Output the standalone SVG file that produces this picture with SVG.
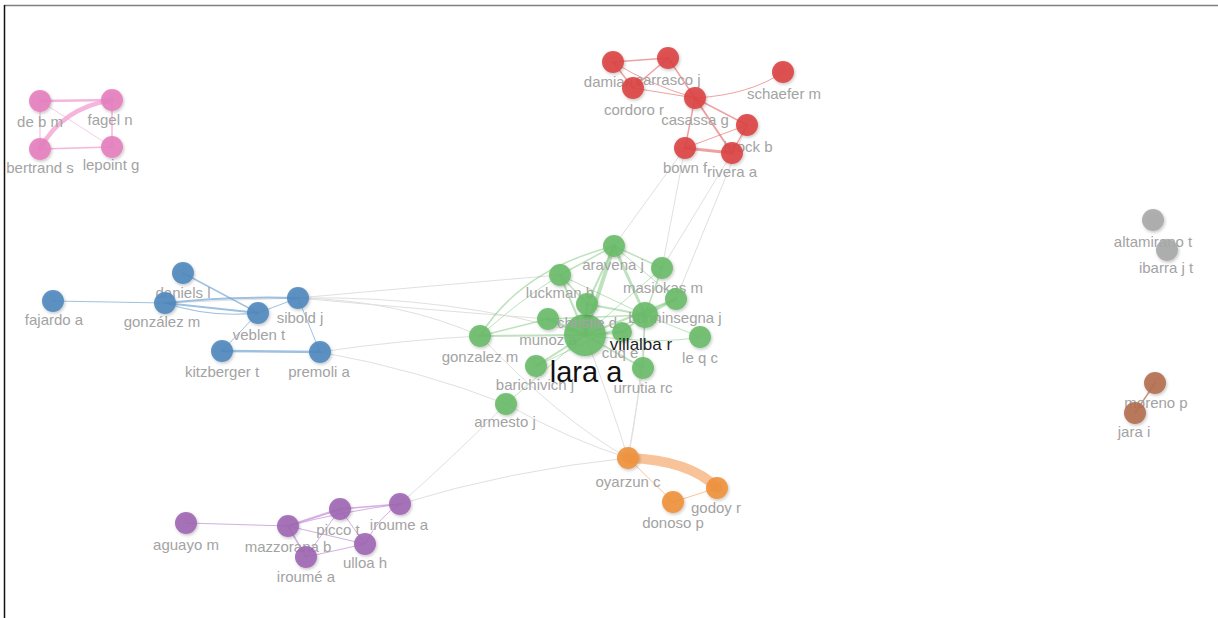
<svg xmlns="http://www.w3.org/2000/svg" width="1218" height="618" viewBox="0 0 1218 618">
<defs>
<filter id="sh" x="-50%" y="-50%" width="200%" height="200%"><feDropShadow dx="1" dy="1.5" stdDeviation="1.5" flood-color="#000" flood-opacity="0.25"/></filter>
</defs>
<style>
text{font-family:"Liberation Sans",Arial,Helvetica,sans-serif;font-size:15px;fill:#a3a3a3;text-anchor:middle}
circle{filter:url(#sh);fill-opacity:0.9}
.pk circle{fill:#e680bf}.rd circle{fill:#db4444}.bl circle{fill:#5088be}.gr circle{fill:#69bb69}
.or circle{fill:#f0913c}.pu circle{fill:#a066b4}.gy circle{fill:#a8a8a8}.br circle{fill:#b46e50}
#edges path,#edges line{fill:none;stroke-linecap:round}
.ep{stroke:#f3a8d6;opacity:.85}.er{stroke:#e66e70;opacity:.65}.eb{stroke:#6b9fd0;opacity:.65}
.eg{stroke:#7cc67c;opacity:.5}.eo{stroke:#f7b987;opacity:.85}.eu{stroke:#c99ad9;opacity:.8}
.ew{stroke:#b98064;opacity:.8}.ex{stroke:#e0e0e0;stroke-width:1}
.big{font-size:29px;fill:#111}.mid{font-size:17px;fill:#1e1e1e}
</style>
<rect width="1218" height="618" fill="#fff"/>
<line x1="4" y1="5.5" x2="1218" y2="5.5" stroke="#808080" stroke-width="1.5"/>
<line x1="4.5" y1="5" x2="4.5" y2="618" stroke="#111" stroke-width="1.5"/>
<g id="edges">
<path class="ex" d="M298,298 Q400,300 480,336"/>
<path class="ex" d="M298,298 Q450,295 585,335"/>
<path class="ex" d="M298,298 Q440,285 560,275"/>
<path class="ex" d="M298,298 Q430,310 548,319"/>
<path class="ex" d="M320,352 Q400,340 480,336"/>
<path class="ex" d="M320,352 Q420,370 506,404"/>
<path class="ex" d="M165,303 Q230,300 298,298"/>
<path class="ex" d="M506,404 Q450,460 400,504"/>
<path class="ex" d="M506,404 Q570,440 628,458"/>
<path class="ex" d="M400,504 Q510,470 628,458"/>
<path class="ex" d="M480,336 Q560,420 628,458"/>
<path class="ex" d="M585,335 Q610,400 628,458"/>
<path class="ex" d="M645,315 Q640,400 628,458"/>
<path class="ex" d="M643,368 L628,458"/>
<path class="ex" d="M685,148 L662,268"/>
<path class="ex" d="M685,148 L614,246"/>
<path class="ex" d="M732,153 L662,268"/>
<path class="ex" d="M747,125 L676,299"/>
<line class="ep" x1="40" y1="101" x2="112" y2="100" stroke-width="2.5"/>
<line class="ep" x1="112" y1="100" x2="112" y2="147" stroke-width="1.5"/>
<line class="ep" x1="112" y1="147" x2="40" y2="149" stroke-width="1.5"/>
<line class="ep" x1="40" y1="149" x2="40" y2="101" stroke-width="1"/>
<line class="ep" x1="40" y1="101" x2="112" y2="147" stroke-width="0.7"/>
<path class="ep" d="M40,149 Q62,108 112,100" stroke-width="4.5"/>
<line class="er" x1="613" y1="62" x2="668" y2="58" stroke-width="1.5"/>
<line class="er" x1="613" y1="62" x2="633" y2="88" stroke-width="1.5"/>
<path class="er" d="M613,62 Q650,85 695,98" stroke-width="1"/>
<line class="er" x1="668" y1="58" x2="633" y2="88" stroke-width="1.5"/>
<line class="er" x1="668" y1="58" x2="695" y2="98" stroke-width="1.5"/>
<line class="er" x1="633" y1="88" x2="695" y2="98" stroke-width="1"/>
<path class="er" d="M695,98 Q750,95 783,72" stroke-width="1"/>
<line class="er" x1="695" y1="98" x2="747" y2="125" stroke-width="1.5"/>
<line class="er" x1="695" y1="98" x2="685" y2="148" stroke-width="1.5"/>
<line class="er" x1="695" y1="98" x2="732" y2="153" stroke-width="2"/>
<line class="er" x1="747" y1="125" x2="732" y2="153" stroke-width="1.5"/>
<line class="er" x1="747" y1="125" x2="685" y2="148" stroke-width="1"/>
<line class="er" x1="685" y1="148" x2="732" y2="153" stroke-width="3"/>
<line class="eb" x1="53" y1="301" x2="165" y2="303" stroke-width="1"/>
<path class="eb" d="M165,303 Q230,296 298,298" stroke-width="2"/>
<line class="eb" x1="165" y1="303" x2="258" y2="313" stroke-width="2"/>
<path class="eb" d="M165,303 Q210,318 258,313" stroke-width="1.2"/>
<line class="eb" x1="183" y1="273" x2="258" y2="313" stroke-width="1.5"/>
<line class="eb" x1="258" y1="313" x2="298" y2="298" stroke-width="1"/>
<line class="eb" x1="258" y1="313" x2="222" y2="351" stroke-width="1"/>
<line class="eb" x1="298" y1="298" x2="320" y2="352" stroke-width="1"/>
<line class="eb" x1="222" y1="351" x2="320" y2="352" stroke-width="2.5"/>
<line class="eg" x1="614" y1="246" x2="585" y2="335" stroke-width="4"/>
<line class="eg" x1="614" y1="246" x2="645" y2="315" stroke-width="3"/>
<line class="eg" x1="614" y1="246" x2="560" y2="275" stroke-width="1.5"/>
<line class="eg" x1="614" y1="246" x2="662" y2="268" stroke-width="1.5"/>
<line class="eg" x1="614" y1="246" x2="676" y2="299" stroke-width="1"/>
<line class="eg" x1="614" y1="246" x2="587" y2="304" stroke-width="2"/>
<path class="eg" d="M480,336 Q520,270 614,246" stroke-width="1.5"/>
<path class="eg" d="M480,336 Q520,300 560,275" stroke-width="1"/>
<line class="eg" x1="560" y1="275" x2="585" y2="335" stroke-width="2"/>
<line class="eg" x1="560" y1="275" x2="587" y2="304" stroke-width="1.5"/>
<line class="eg" x1="560" y1="275" x2="645" y2="315" stroke-width="1"/>
<line class="eg" x1="662" y1="268" x2="645" y2="315" stroke-width="1.5"/>
<line class="eg" x1="662" y1="268" x2="585" y2="335" stroke-width="1"/>
<line class="eg" x1="676" y1="299" x2="645" y2="315" stroke-width="3"/>
<line class="eg" x1="676" y1="299" x2="585" y2="335" stroke-width="2"/>
<line class="eg" x1="587" y1="304" x2="585" y2="335" stroke-width="3"/>
<line class="eg" x1="587" y1="304" x2="645" y2="315" stroke-width="2"/>
<line class="eg" x1="548" y1="319" x2="585" y2="335" stroke-width="3"/>
<line class="eg" x1="548" y1="319" x2="645" y2="315" stroke-width="1.5"/>
<line class="eg" x1="480" y1="336" x2="585" y2="335" stroke-width="2"/>
<line class="eg" x1="480" y1="336" x2="548" y2="319" stroke-width="1.5"/>
<line class="eg" x1="536" y1="366" x2="585" y2="335" stroke-width="2"/>
<line class="eg" x1="536" y1="366" x2="645" y2="315" stroke-width="1"/>
<line class="eg" x1="622" y1="332" x2="585" y2="335" stroke-width="3"/>
<line class="eg" x1="622" y1="332" x2="645" y2="315" stroke-width="2"/>
<line class="eg" x1="643" y1="368" x2="585" y2="335" stroke-width="2"/>
<line class="eg" x1="643" y1="368" x2="645" y2="315" stroke-width="1.5"/>
<line class="eg" x1="700" y1="337" x2="645" y2="315" stroke-width="1"/>
<path class="eg" d="M700,337 Q660,345 585,335" stroke-width="1"/>
<line class="eg" x1="506" y1="404" x2="585" y2="335" stroke-width="1"/>
<path class="eo" d="M628,458 Q690,460 717,488" stroke-width="10"/>
<line class="eo" x1="628" y1="458" x2="673" y2="502" stroke-width="1" opacity=".5"/>
<line class="eo" x1="673" y1="502" x2="717" y2="488" stroke-width="1" opacity=".5"/>
<line class="eu" x1="186" y1="523" x2="288" y2="526" stroke-width="1"/>
<line class="eu" x1="288" y1="526" x2="340" y2="509" stroke-width="2"/>
<path class="eu" d="M288,526 Q340,512 400,504" stroke-width="1"/>
<line class="eu" x1="288" y1="526" x2="365" y2="544" stroke-width="1"/>
<line class="eu" x1="288" y1="526" x2="306" y2="557" stroke-width="1.5"/>
<line class="eu" x1="340" y1="509" x2="400" y2="504" stroke-width="1.5"/>
<line class="eu" x1="340" y1="509" x2="365" y2="544" stroke-width="1"/>
<line class="eu" x1="306" y1="557" x2="365" y2="544" stroke-width="1"/>
<line class="eu" x1="306" y1="557" x2="340" y2="509" stroke-width="1"/>
<path class="eu" d="M365,544 Q380,515 400,504" stroke-width="1"/>
<line class="ew" x1="1155" y1="383" x2="1135" y2="413" stroke-width="1.5"/>
</g>
<g id="n-de-b-m" class="pk"><text x="40" y="127">de b m</text><circle cx="40" cy="101" r="11"/></g>
<g id="n-fagel-n" class="pk"><text x="110" y="125">fagel n</text><circle cx="112" cy="100" r="11"/></g>
<g id="n-bertrand-s" class="pk"><text x="40" y="173">bertrand s</text><circle cx="40" cy="149" r="11"/></g>
<g id="n-lepoint-g" class="pk"><text x="111" y="170">lepoint g</text><circle cx="112" cy="147" r="11"/></g>
<g id="n-damian-r" class="rd"><text x="613" y="87">damian r</text><circle cx="613" cy="62" r="11"/></g>
<g id="n-carrasco-j" class="rd"><text x="668" y="85">carrasco j</text><circle cx="668" cy="58" r="11"/></g>
<g id="n-cordoro-r" class="rd"><text x="634" y="115">cordoro r</text><circle cx="633" cy="88" r="11"/></g>
<g id="n-casassa-g" class="rd"><text x="695" y="125">casassa g</text><circle cx="695" cy="98" r="11"/></g>
<g id="n-schaefer-m" class="rd"><text x="784" y="99">schaefer m</text><circle cx="783" cy="72" r="11"/></g>
<g id="n-brock-b" class="rd"><text x="748" y="152">brock b</text><circle cx="747" cy="125" r="11"/></g>
<g id="n-bown-f" class="rd"><text x="685" y="173">bown f</text><circle cx="685" cy="148" r="11"/></g>
<g id="n-rivera-a" class="rd"><text x="732" y="177">rivera a</text><circle cx="732" cy="153" r="11"/></g>
<g id="n-daniels-l" class="bl"><text x="183" y="298">daniels l</text><circle cx="183" cy="273" r="11"/></g>
<g id="n-fajardo-a" class="bl"><text x="54" y="325">fajardo a</text><circle cx="53" cy="301" r="11"/></g>
<g id="n-gonzalez-m-b" class="bl"><text x="162" y="327">gonzález m</text><circle cx="165" cy="303" r="11"/></g>
<g id="n-sibold-j" class="bl"><text x="300" y="323">sibold j</text><circle cx="298" cy="298" r="11"/></g>
<g id="n-veblen-t" class="bl"><text x="259" y="340">veblen t</text><circle cx="258" cy="313" r="11"/></g>
<g id="n-kitzberger-t" class="bl"><text x="222" y="377">kitzberger t</text><circle cx="222" cy="351" r="11"/></g>
<g id="n-premoli-a" class="bl"><text x="319" y="377">premoli a</text><circle cx="320" cy="352" r="11"/></g>
<g id="n-aravena-j" class="gr"><text x="613" y="270">aravena j</text><circle cx="614" cy="246" r="11"/></g>
<g id="n-masiokas-m" class="gr"><text x="663" y="293">masiokas m</text><circle cx="662" cy="268" r="11"/></g>
<g id="n-luckman-b" class="gr"><text x="560" y="298">luckman b</text><circle cx="560" cy="275" r="11"/></g>
<g id="n-bonninsegna-j" class="gr"><text x="675" y="323">bonninsegna j</text><circle cx="676" cy="299" r="11"/></g>
<g id="n-munoz-a" class="gr"><text x="548" y="345">munoz a</text><circle cx="548" cy="319" r="11"/></g>
<g id="n-gonzalez-m-g" class="gr"><text x="480" y="362">gonzalez m</text><circle cx="480" cy="336" r="11"/></g>
<g id="n-barichivich-j" class="gr"><text x="535" y="390">barichivich j</text><circle cx="536" cy="366" r="11"/></g>
<g id="n-armesto-j" class="gr"><text x="505" y="427">armesto j</text><circle cx="506" cy="404" r="11"/></g>
<g id="n-le-q-c" class="gr"><text x="700" y="363">le q c</text><circle cx="700" cy="337" r="11"/></g>
<g id="n-urrutia-rc" class="gr"><text x="643" y="393">urrutia rc</text><circle cx="643" cy="368" r="11"/></g>
<g id="n-lara-a" class="gr"><circle cx="585" cy="335" r="21"/><text class="big" x="586" y="382">lara a</text></g>
<g id="n-christie-d" class="gr"><circle cx="587" cy="304" r="11"/><text x="587" y="328">christie d</text></g>
<g id="n-cuq-e" class="gr"><circle cx="622" cy="332" r="10"/><text x="620" y="358">cuq e</text></g>
<g id="n-villalba-r" class="gr"><circle cx="645" cy="315" r="13"/><text class="mid" x="641" y="350">villalba r</text></g>
<g id="n-oyarzun-c" class="or"><text x="628" y="487">oyarzun c</text><circle cx="628" cy="458" r="11"/></g>
<g id="n-godoy-r" class="or"><text x="716" y="513">godoy r</text><circle cx="717" cy="488" r="11"/></g>
<g id="n-donoso-p" class="or"><text x="673" y="528">donoso p</text><circle cx="673" cy="502" r="11"/></g>
<g id="n-aguayo-m" class="pu"><text x="186" y="550">aguayo m</text><circle cx="186" cy="523" r="11"/></g>
<g id="n-mazzorana-b" class="pu"><text x="288" y="552">mazzorana b</text><circle cx="288" cy="526" r="11"/></g>
<g id="n-picco-t" class="pu"><text x="338" y="535">picco t</text><circle cx="340" cy="509" r="11"/></g>
<g id="n-iroume-a" class="pu"><text x="399" y="530">iroume a</text><circle cx="400" cy="504" r="11"/></g>
<g id="n-ulloa-h" class="pu"><text x="365" y="568">ulloa h</text><circle cx="365" cy="544" r="11"/></g>
<g id="n-iroume-a2" class="pu"><text x="306" y="582">iroumé a</text><circle cx="306" cy="557" r="11"/></g>
<g id="n-altamirano-t" class="gy"><text x="1153" y="247">altamirano t</text><circle cx="1153" cy="220" r="11"/></g>
<g id="n-ibarra-j-t" class="gy"><text x="1166" y="273">ibarra j t</text><circle cx="1167" cy="250" r="11"/></g>
<g id="n-moreno-p" class="br"><text x="1156" y="408">moreno p</text><circle cx="1155" cy="383" r="11"/></g>
<g id="n-jara-i" class="br"><text x="1134" y="437">jara i</text><circle cx="1135" cy="413" r="11"/></g>
</svg>
